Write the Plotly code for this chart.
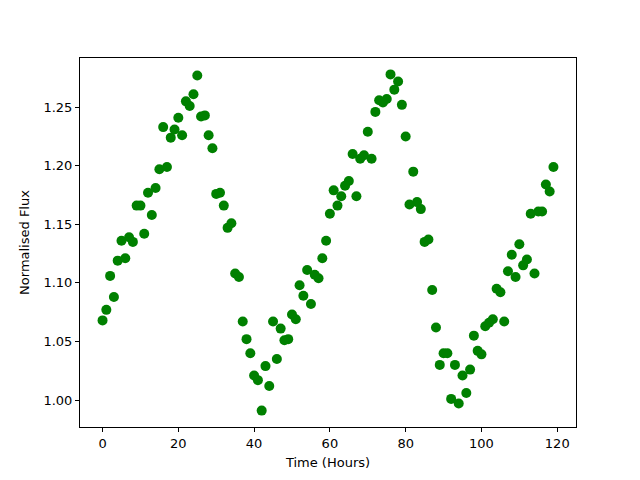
import plotly.graph_objects as go

hours = list(range(120))
flux = [
    1.068, 1.077, 1.106, 1.088, 1.119, 1.136, 1.121, 1.139, 1.135, 1.166,
    1.166, 1.142, 1.177, 1.158, 1.181, 1.197, 1.233, 1.199, 1.224, 1.231,
    1.241, 1.226, 1.255, 1.251, 1.261, 1.277, 1.242, 1.243, 1.226, 1.215,
    1.176, 1.177, 1.166, 1.147, 1.151, 1.108, 1.105, 1.067, 1.052, 1.040,
    1.021, 1.017, 0.991, 1.029, 1.012, 1.067, 1.035, 1.061, 1.051, 1.052,
    1.073, 1.069, 1.098, 1.089, 1.111, 1.082, 1.107, 1.104, 1.121, 1.136,
    1.159, 1.179, 1.166, 1.174, 1.183, 1.187, 1.210, 1.174, 1.206, 1.209,
    1.229, 1.206, 1.246, 1.256, 1.254, 1.257, 1.278, 1.265, 1.272, 1.252,
    1.225, 1.167, 1.195, 1.169, 1.163, 1.135, 1.137, 1.094, 1.062, 1.030,
    1.040, 1.040, 1.001, 1.030, 0.997, 1.021, 1.006, 1.026, 1.055, 1.042,
    1.039, 1.063, 1.066, 1.069, 1.095, 1.092, 1.067, 1.110, 1.124, 1.105,
    1.133, 1.115, 1.120, 1.159, 1.108, 1.161, 1.161, 1.184, 1.178, 1.199,
]
x_ticks = [0, 20, 40, 60, 80, 100, 120]
y_ticks = [1.00, 1.05, 1.10, 1.15, 1.20, 1.25]

fig = go.Figure(go.Scatter(
    x=hours, y=flux, mode="markers",
    marker=dict(color="#008000", size=10, line=dict(width=0)),
))

axis_common = dict(
    showgrid=False, zeroline=False, showline=True, linecolor="black",
    linewidth=1, mirror=True, ticks="outside", ticklen=4, tickwidth=1,
    tickcolor="black", tickfont=dict(family="DejaVu Sans", size=13, color="black"),
)
fig.update_xaxes(range=[-5.95, 124.95], tickvals=x_ticks,
                 title=dict(text="Time (Hours)", font=dict(family="DejaVu Sans", size=13, color="black"), standoff=8),
                 **axis_common)
fig.update_yaxes(range=[0.977, 1.292], tickvals=y_ticks, tickformat=".2f",
                 title=dict(text="Normalised Flux", font=dict(family="DejaVu Sans", size=13, color="black"), standoff=10),
                 **axis_common)
fig.update_layout(
    width=640, height=480, autosize=False,
    margin=dict(l=72, r=72, t=50, b=61),
    paper_bgcolor="white", plot_bgcolor="white", showlegend=False,
)
fig.write_html("out.html")
